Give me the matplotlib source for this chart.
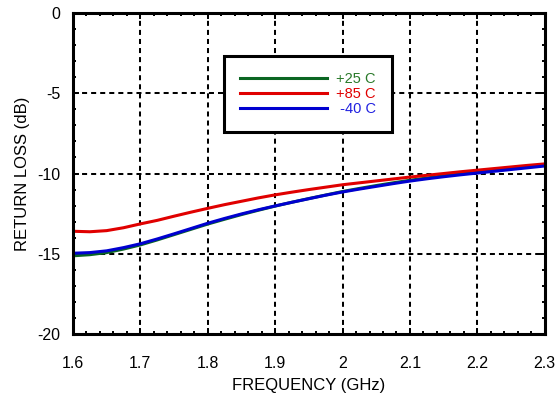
import matplotlib
matplotlib.use('Agg')
import matplotlib.pyplot as plt
from matplotlib.ticker import MultipleLocator

plt.rcParams['font.family'] = ['Liberation Sans', 'DejaVu Sans']
plt.rcParams['axes.unicode_minus'] = False

freq = [1.600, 1.625, 1.650, 1.675, 1.700, 1.725, 1.750, 1.775, 1.800, 1.825,
        1.850, 1.875, 1.900, 1.925, 1.950, 1.975, 2.000, 2.025, 2.050, 2.075,
        2.100, 2.125, 2.150, 2.175, 2.200, 2.225, 2.250, 2.275, 2.300]
rl_25 = [-15.13, -15.06, -14.93, -14.71, -14.45, -14.14, -13.81, -13.48, -13.15, -12.85,
         -12.56, -12.29, -12.03, -11.79, -11.56, -11.34, -11.12, -10.93, -10.75, -10.58,
         -10.42, -10.28, -10.14, -10.02, -9.91, -9.80, -9.69, -9.58, -9.48]
rl_85 = [-13.60, -13.63, -13.56, -13.38, -13.14, -12.92, -12.66, -12.41, -12.17, -11.94,
         -11.73, -11.52, -11.33, -11.16, -11.00, -10.85, -10.70, -10.58, -10.46, -10.34,
         -10.22, -10.11, -10.00, -9.89, -9.79, -9.69, -9.59, -9.49, -9.40]
rl_m40 = [-14.97, -14.93, -14.82, -14.62, -14.38, -14.08, -13.76, -13.43, -13.10, -12.80,
          -12.52, -12.26, -12.02, -11.79, -11.57, -11.35, -11.15, -10.97, -10.80, -10.63,
          -10.47, -10.33, -10.20, -10.08, -9.97, -9.86, -9.75, -9.64, -9.53]
labels = ['+25 C', '+85 C', ' -40 C']
colors = ['#0b6623', '#e00000', '#0000d0']
text_colors = ['#2a7a2a', '#e00000', '#2020e0']
xticks = [1.6, 1.7, 1.8, 1.9, 2.0, 2.1, 2.2, 2.3]
xticklabels = ['1.6', '1.7', '1.8', '1.9', '2', '2.1', '2.2', '2.3']

fig = plt.figure(figsize=(5.57, 3.98), dpi=100)
ax = fig.add_axes([0.131, 0.161, 0.847, 0.806])

for y, lab, c in zip([rl_25, rl_85, rl_m40], labels, colors):
    ax.plot(freq, y, color=c, lw=2.2, label=lab)

ax.set_xlim(1.6, 2.3)
ax.set_ylim(-20, 0)
ax.set_xticks(xticks)
ax.set_xticklabels(xticklabels)
ax.xaxis.set_minor_locator(MultipleLocator(0.02))
ax.yaxis.set_major_locator(MultipleLocator(5))
ax.yaxis.set_minor_locator(MultipleLocator(1))

ax.grid(True, which='major', color='black', lw=1.45, linestyle=(0, (2.5, 2)))
ax.tick_params(which='both', direction='in', top=True, right=True,
               labelsize=11.5, width=1.4)
ax.tick_params(which='major', length=4.5)
ax.tick_params(which='minor', length=2.5)
ax.tick_params(axis='x', which='major', pad=16)
ax.tick_params(axis='y', which='major', pad=9)
for s in ax.spines.values():
    s.set_linewidth(2.2)

ax.set_xlabel('FREQUENCY (GHz)', fontsize=12, labelpad=5)
ax.set_ylabel('RETURN LOSS (dB)', fontsize=12, labelpad=5)

leg = ax.legend(loc='upper left', bbox_to_anchor=(0.32, 0.865), fontsize=10.5,
                frameon=True, fancybox=False, edgecolor='black', framealpha=1,
                handlelength=6.0, handletextpad=0.6, labelspacing=0.05,
                borderpad=1.1, borderaxespad=0)
leg.get_frame().set_linewidth(2.2)
for t, c in zip(leg.get_texts(), text_colors):
    t.set_color(c)

fig.savefig('out.png', dpi=100)
